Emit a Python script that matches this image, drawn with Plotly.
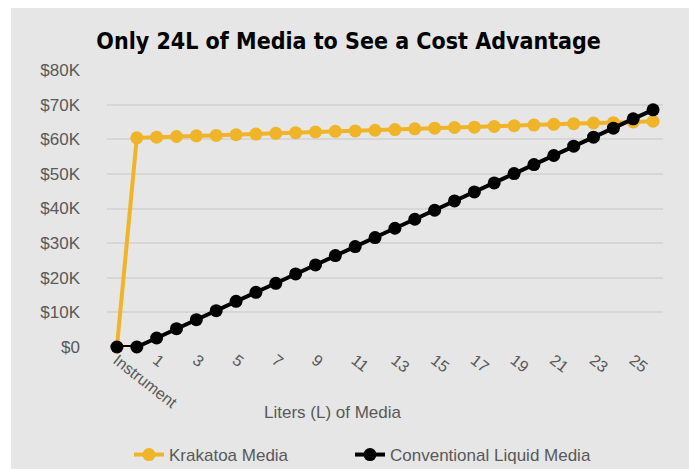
import plotly.graph_objects as go

categories = ["Instrument"] + [str(i) for i in range(0, 27)]
krakatoa = [0, 60.4, 60.6, 60.8, 61.0, 61.1, 61.3, 61.5, 61.7, 61.9, 62.1, 62.3, 62.4, 62.6,
            62.8, 63.0, 63.2, 63.4, 63.5, 63.7, 63.9, 64.1, 64.3, 64.5, 64.7, 64.8, 65.0, 65.2]
conventional = [0, 0, 2.6, 5.3, 7.9, 10.5, 13.2, 15.8, 18.4, 21.1, 23.7, 26.4, 29.0, 31.6,
                34.3, 36.9, 39.5, 42.2, 44.8, 47.4, 50.1, 52.7, 55.3, 58.0, 60.6, 63.2, 65.9, 68.5]
krakatoa_usd = [v * 1000 for v in krakatoa]
conventional_usd = [v * 1000 for v in conventional]
x_ticks = ["Instrument"] + [str(i) for i in range(1, 26, 2)]
y_ticks = [0, 10000, 20000, 30000, 40000, 50000, 60000, 70000, 80000]
y_labels = ["$0", "$10K", "$20K", "$30K", "$40K", "$50K", "$60K", "$70K", "$80K"]

YELLOW = "#F0B429"
BG = "#E6E6E6"
GREY = "#595959"

W, H = 689, 469
L, R, T, B = 107, 26, 70, 122
PW, PH = W - L - R, H - T - B


def px_x(px):
    return (px - L) / PW


def px_y(py):
    return (H - B - py) / PH


fig = go.Figure()
fig.add_trace(go.Scatter(x=categories, y=krakatoa_usd, name="Krakatoa Media", mode="lines+markers",
                         line=dict(color=YELLOW, width=4), marker=dict(color=YELLOW, size=13),
                         cliponaxis=False, legend="legend"))
fig.add_trace(go.Scatter(x=categories, y=conventional_usd, name="Conventional Liquid Media",
                         mode="lines+markers", line=dict(color="#000000", width=4),
                         marker=dict(color="#000000", size=13), cliponaxis=False,
                         legend="legend2"))

legend_common = dict(orientation="h", xanchor="left", y=px_y(455), yanchor="middle",
                     font=dict(size=17, color=GREY), bgcolor="rgba(0,0,0,0)")

fig.update_layout(
    width=W, height=H,
    paper_bgcolor="#FFFFFF", plot_bgcolor=BG,
    margin=dict(l=L, r=R, t=T, b=B, autoexpand=False),
    title=dict(text="<b>Only 24L of Media to See a Cost Advantage</b>", x=0.506, xref="container",
               xanchor="center", y=1 - 41 / H, yref="container", yanchor="middle",
               font=dict(family="Liberation Sans Narrow, DejaVu Sans Condensed, sans-serif", size=23,
                         color="#000000")),
    font=dict(family="Liberation Sans, Arial, sans-serif", size=16, color=GREY),
    showlegend=True,
    legend=dict(x=px_x(129), **legend_common),
    legend2=dict(x=px_x(350), **legend_common),
    hovermode=False,
    shapes=[dict(type="rect", xref="paper", yref="paper", x0=px_x(11), x1=px_x(W + 2),
                 y0=px_y(H + 2), y1=px_y(8), fillcolor=BG, line=dict(width=0), layer="below")],
    annotations=[dict(text="Liters (L) of Media", xref="paper", yref="paper",
                      x=px_x(333), y=px_y(412), xanchor="center",
                      yanchor="middle", showarrow=False, font=dict(size=17, color=GREY))],
)
fig.update_xaxes(type="category", categoryorder="array", categoryarray=categories,
                 range=[-0.5, 27.5], tickmode="array", tickvals=x_ticks, ticktext=x_ticks,
                 tickangle=38, showgrid=False, zeroline=False, showline=False, ticks="",
                 automargin=False, tickfont=dict(size=16, color=GREY))
fig.update_yaxes(range=[0, 80000], tickmode="array", tickvals=y_ticks, ticktext=y_labels,
                 showgrid=True, gridcolor="#D6D6D6", gridwidth=1.5, zeroline=False, showline=False,
                 automargin=False, tickfont=dict(size=17, color=GREY), ticks="",
                 ticklabelstandoff=26)

fig.write_html("out.html", config={"displayModeBar": False},
               post_script="document.body.style.margin='0';document.body.style.overflow='hidden';")
